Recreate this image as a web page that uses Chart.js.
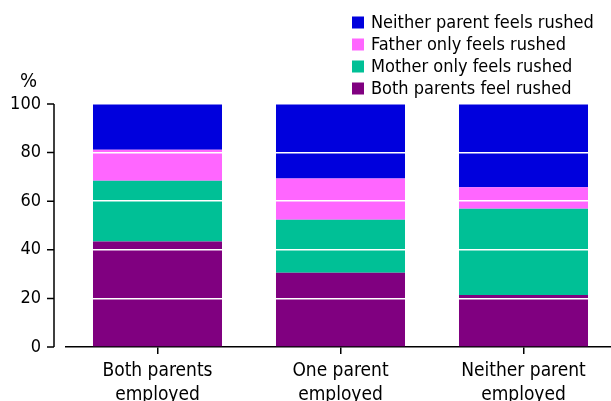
<!DOCTYPE html>
<html>
<head>
<meta charset="utf-8">
<script src="https://cdn.jsdelivr.net/npm/chart.js@4"></script>
<style>
  html, body { margin: 0; background: #fff; overflow: hidden; }
  #wrap { width: 611px; height: 401px; overflow: hidden; }
</style>
</head>
<body>
<div id="wrap"><canvas id="rushChart" width="615" height="401"></canvas></div>
<script>
// Data
const categories = [['Both parents', 'employed'], ['One parent', 'employed'], ['Neither parent', 'employed']];
const seriesNames = ['Both parents feel rushed', 'Mother only feels rushed', 'Father only feels rushed', 'Neither parent feels rushed'];
const bothRushed = [43.4, 30.6, 21.4];
const motherOnly = [25.0, 21.8, 35.5];
const fatherOnly = [12.8, 16.9, 8.8];
const neitherRushed = [18.8, 30.7, 34.3];
const yTicks = [0, 20, 40, 60, 80, 100];

const FONT = "'DejaVu Sans Condensed', 'DejaVu Sans', sans-serif";
const colors = ['#800080', '#00C096', '#FF66FF', '#0000DD'];

document.addEventListener('DOMContentLoaded', function() {
    const seriesValues = [bothRushed, motherOnly, fatherOnly, neitherRushed];
    const datasets = seriesNames.map((name, i) => ({
        label: name,
        data: seriesValues[i],
        backgroundColor: colors[i],
        borderWidth: 0,
        barPercentage: 0.705,
        categoryPercentage: 1.0
    }));

    // y axis line sits a little left of the plot, drawn by hand
    const axisAndLegend = {
        id: 'axisAndLegend',
        afterDraw(chart) {
            const ctx = chart.ctx;
            const area = chart.chartArea;
            const y = chart.scales.y;
            const ax = area.left - 12;
            ctx.save();
            ctx.strokeStyle = '#000';
            ctx.lineWidth = 1.5;
            ctx.beginPath();
            ctx.moveTo(ax, y.getPixelForValue(100));
            ctx.lineTo(ax, y.getPixelForValue(0));
            yTicks.forEach(v => {
                const py = y.getPixelForValue(v);
                ctx.moveTo(ax - 7, py);
                ctx.lineTo(ax, py);
            });
            ctx.stroke();

            // % unit label
            ctx.fillStyle = '#000';
            ctx.font = '20px ' + FONT;
            ctx.textAlign = 'left';
            ctx.textBaseline = 'middle';
            ctx.fillText('%', 20, 82);

            // legend, reversed order
            ctx.font = '18px ' + FONT;
            for (let i = 0; i < datasets.length; i++) {
                const ds = datasets[datasets.length - 1 - i];
                const cy = 22.5 + i * 22;
                ctx.fillStyle = ds.backgroundColor;
                ctx.fillRect(352, cy - 6, 12, 12);
                ctx.fillStyle = '#000';
                ctx.fillText(ds.label, 371, cy + 1);
            }
            ctx.restore();
        }
    };

    const rushCtx = document.getElementById('rushChart').getContext('2d');
    new Chart(rushCtx, {
        type: 'bar',
        data: { labels: categories, datasets: datasets },
        options: {
            responsive: false,
            animation: false,
            layout: { padding: { top: 104, right: 0, left: 0, bottom: 0 } },
            plugins: {
                legend: { display: false },
                tooltip: { enabled: false }
            },
            scales: {
                x: {
                    stacked: true,
                    offset: true,
                    afterFit: function(scale) { scale.height = 54; },
                    grid: {
                        offset: false,
                        drawOnChartArea: false,
                        drawTicks: true,
                        tickLength: 7,
                        color: '#000',
                        lineWidth: 1.5
                    },
                    border: { display: true, color: '#000', width: 1.5 },
                    ticks: {
                        color: '#000',
                        padding: 5,
                        maxRotation: 0,
                        font: { family: FONT, size: 19, lineHeight: '24px' }
                    }
                },
                y: {
                    stacked: true,
                    min: 0,
                    max: 100,
                    afterFit: function(scale) { scale.width = 66; },
                    border: { display: false },
                    grid: {
                        z: 1,
                        drawTicks: false,
                        lineWidth: 1.5,
                        color: function(c) { return c.tick && c.tick.value === 0 ? 'rgba(0,0,0,0)' : '#fff'; }
                    },
                    ticks: {
                        stepSize: 20,
                        color: '#000',
                        padding: 25,
                        font: { family: FONT, size: 18 }
                    }
                }
            }
        },
        plugins: [axisAndLegend]
    });
});
</script>
</body>
</html>
